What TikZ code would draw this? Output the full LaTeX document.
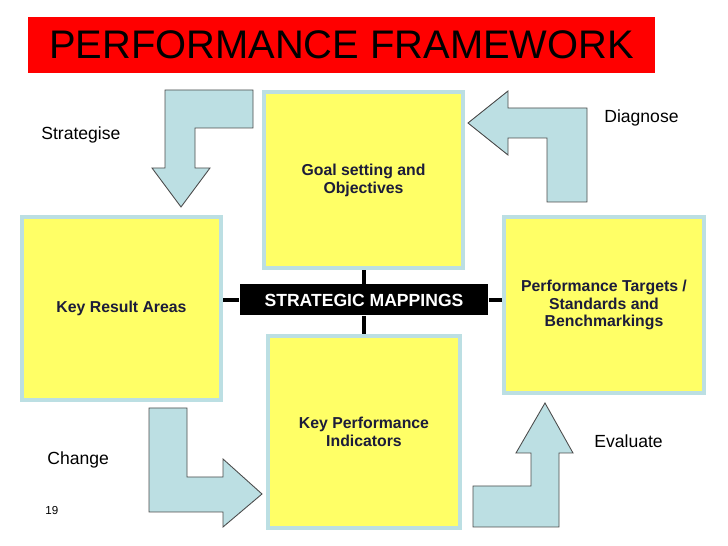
\documentclass[tikz,border=0pt]{standalone}
\usepackage{fontspec}
\setmainfont{Liberation Sans}
\usetikzlibrary{positioning}

\definecolor{cajaamarilla}{HTML}{FFFF66}
\definecolor{bordeazul}{HTML}{BCDFE3}
\definecolor{textoazul}{HTML}{1C1C3A}
\definecolor{rojotitulo}{HTML}{FF0000}

\tikzset{
  caja/.style={draw=bordeazul, line width=2.4pt, fill=cajaamarilla, text=textoazul,
    font=\fontsize{9}{10.2}\selectfont\bfseries, align=center, inner sep=0pt},
  flecha/.style={draw=black!70, line width=0.5pt, fill=bordeazul},
  etiqueta/.style={font=\fontsize{10}{12}\selectfont, inner sep=0pt}
}

\begin{document}
\begin{tikzpicture}[x=0.02cm, y=-0.02cm]
		\useasboundingbox (0,0) rectangle (728,546);
		
		% Titulo
		\node[fill=rojotitulo, minimum width=12.54cm, minimum height=1.12cm, inner sep=0pt,
		  font=\fontsize{22.7}{26}\selectfont] (titulo) at (341.5,45) {PERFORMANCE FRAMEWORK};
		
		% Cajas
		\node[caja, minimum width=3.98cm, minimum height=3.52cm] (goal) at (363.5,180) {Goal setting and\\Objectives};
		\node[caja, minimum width=3.98cm, minimum height=3.66cm] (kra) at (121.5,308.5) {Key Result Areas};
		\node[caja, minimum width=4.0cm, minimum height=3.52cm] (targets) at (604,305) {Performance Targets /\\Standards and\\Benchmarkings};
		\node[caja, minimum width=3.84cm, minimum height=3.84cm] (kpi) at (364,432) {Key Performance\\Indicators};
		
		% Cruz central
		\node[fill=black, text=white, minimum width=4.98cm, minimum height=0.62cm, inner sep=0pt,
		  font=\fontsize{10}{12}\selectfont\bfseries] (maps) at (364,300) {STRATEGIC MAPPINGS};
		\draw[line width=2.4pt] (maps.north |- goal.south) -- (maps.north);
		\draw[line width=2.4pt] (maps.south) -- (maps.south |- kpi.north);
		\draw[line width=2.6pt] (kra.east |- maps) -- (maps.west);
		\draw[line width=2.6pt] (maps.east) -- (targets.west |- maps);
		
		% Flechas
		\draw[flecha] (165,90) -- (253,90) -- (253,128) -- (195,128) -- (195,168) -- (210,168)
		  -- (181,207) -- (152,168) -- (165,168) -- cycle;
		\draw[flecha] (468,123) -- (508,91) -- (508,108) -- (587,108) -- (587,202) -- (547,202)
		  -- (547,138) -- (508,138) -- (508,155) -- cycle;
		\draw[flecha] (149,408) -- (187,408) -- (187,477) -- (223,477) -- (223,459) -- (262,494)
		  -- (223,527) -- (223,512) -- (149,512) -- cycle;
		\draw[flecha] (545,403) -- (573,453) -- (559,453) -- (559,527) -- (473,527) -- (473,486)
		  -- (531,486) -- (531,453) -- (516,453) -- cycle;
		
		% Etiquetas
		\node[etiqueta, anchor=west] (strategise) at (41,135) {Strategise};
		\node[etiqueta, anchor=west] (diagnose) at (604,118) {Diagnose};
		\node[etiqueta, anchor=west] (change) at (47,460) {Change};
		\node[etiqueta, anchor=west] (evaluate) at (594,441) {Evaluate};
		\node[anchor=west, inner sep=0pt, font=\fontsize{6.6}{8}\selectfont] (pagina) at (45,511) {19};
	\end{tikzpicture}
\end{document}
